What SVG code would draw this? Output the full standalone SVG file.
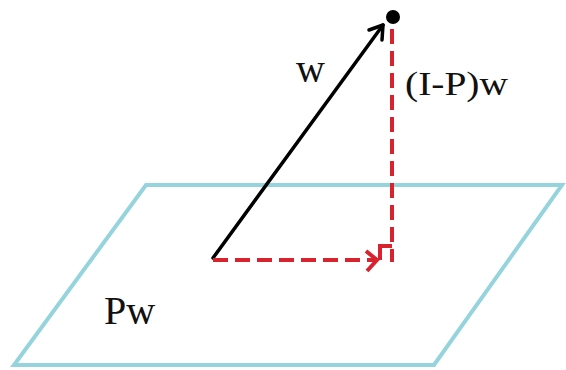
<svg xmlns="http://www.w3.org/2000/svg" width="566" height="370" viewBox="0 0 566 370">
<style>
.plane{fill:none;stroke:#95d4dc;stroke-width:4;stroke-linejoin:miter}
.red{fill:none;stroke:#d8232f;stroke-width:4}
.dash{stroke-dasharray:15 7}
.blk{fill:none;stroke:#000;stroke-width:3.5;stroke-linecap:round;stroke-linejoin:round}
.lbl{font-family:"Liberation Serif","Times New Roman",serif;fill:#111}
</style>
<rect width="566" height="370" fill="#fff"/>
<g id="plane">
<polygon class="plane" points="146,185 562,185 434,365 14,365"/>
<text class="lbl" x="104" y="324" font-size="40">Pw</text>
</g>
<g id="point">
<circle cx="393" cy="17" r="7" fill="#000"/>
</g>
<g id="labels">
<text class="lbl" x="296" y="82" font-size="40">w</text>
<text class="lbl" x="405" y="95" font-size="34" textLength="103" lengthAdjust="spacingAndGlyphs">(I-P)w</text>
</g>
<g id="connectors">
<line class="blk" x1="213" y1="258" x2="383" y2="25"/>
<polyline class="blk" points="369,30 383,25 382,40"/>
<line class="red dash" x1="392" y1="29" x2="392" y2="262"/>
<line class="red dash" x1="213" y1="260" x2="376" y2="260"/>
<polyline class="red" points="366,251 377,260 367,271"/>
<polyline class="red" points="392,246 380,246 380,260"/>
</g>
</svg>
